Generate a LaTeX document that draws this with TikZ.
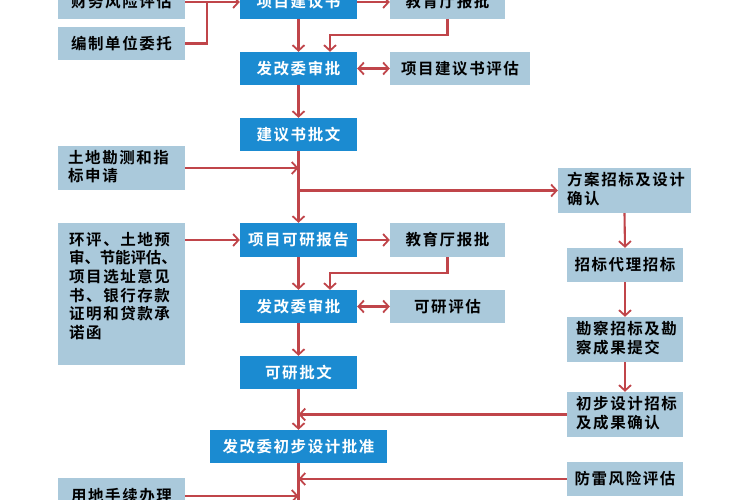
\documentclass[tikz,border=0pt]{standalone}
\usepackage{fontspec}
\newfontfamily\cjk[LetterSpace=10,BoldFont={Noto Sans CJK SC Bold}]{Noto Sans CJK SC}
\usetikzlibrary{arrows.meta}
\definecolor{bluebox}{RGB}{27,139,209}
\definecolor{lightbox}{RGB}{170,201,219}
\definecolor{redline}{RGB}{192,69,74}
\tikzset{
  base/.style={inner sep=0pt, font=\cjk\bfseries\fontsize{15.5}{18.6}\selectfont},
  bb/.style={base, fill=bluebox, text=white, minimum width=117pt, minimum height=33pt},
  lb/.style={base, fill=lightbox, text=black, minimum height=33pt},
  txt/.style={base, text=black, align=left},
  ln/.style={draw=redline, line width=2.1pt},
  ar/.style={ln, -{Straight Barb[length=5.5pt,width=12pt,line width=1.8pt]}},
  dar/.style={ln, {Straight Barb[length=5.5pt,width=12pt,line width=1.8pt]}-{Straight Barb[length=5.5pt,width=12pt,line width=1.8pt]}}
}
\begin{document}
\begin{tikzpicture}[x=1pt,y=-1pt]
\useasboundingbox (0,0) rectangle (750,500);
\fill[white] (0,0) rectangle (750,500);
% left column
\node[lb, minimum width=127pt, minimum height=34pt] (cw) at (121.5,2) {财务风险评估};
\node[lb, minimum width=127pt] (bz) at (121.5,43.5) {编制单位委托};
\node[lb, minimum width=127pt, minimum height=44pt] (td) at (121.5,168) {};
\node[txt, anchor=north west] (tdt) at (68,150) {土地勘测和指\\标申请};
\node[lb, minimum width=127pt, minimum height=142pt] (hp) at (121.5,294) {};
\node[txt, anchor=north west] (hpt) at (69,232) {环评、土地预\\{\addfontfeature{LetterSpace=-1}审、节能评估、}\\项目选址意见\\书、银行存款\\证明和贷款承\\诺函};
\node[lb, minimum width=127pt, minimum height=36pt] (yd) at (121.5,496) {用地手续办理};
% main column
\node[bb, minimum height=34pt] (xmb) at (298.5,2) {项目建议书};
\node[bb] (fg1) at (298.5,68.5) {发改委审批};
\node[bb] (pw1) at (298.5,134.5) {建议书批文};
\node[bb, minimum height=34pt] (ky) at (298.5,240) {项目可研报告};
\node[bb] (fg2) at (298.5,306.5) {发改委审批};
\node[bb] (kw) at (298.5,372.5) {可研批文};
\node[bb, minimum width=177pt] (cb) at (298.5,446.5) {发改委初步设计批准};
% second column
\node[lb, minimum width=115pt, minimum height=34pt] (jy1) at (447.5,2) {教育厅报批};
\node[lb, minimum width=140pt] (pg1) at (460,68.5) {项目建议书评估};
\node[lb, minimum width=115pt, minimum height=34pt] (jy2) at (447.5,240) {教育厅报批};
\node[lb, minimum width=115pt] (kp) at (447.5,306.5) {可研评估};
% right column
\node[lb, minimum width=133pt, minimum height=45pt] (fa) at (624.5,190.5) {};
\node[txt, anchor=north west] (fat) at (567,172) {方案招标及设计\\确认};
\node[lb, minimum width=116pt, minimum height=34pt] (zd) at (625,265) {招标代理招标};
\node[lb, minimum width=116pt, minimum height=45pt] (kc) at (625,339.5) {};
\node[txt, anchor=north west] (kct) at (576,321) {勘察招标及勘\\察成果提交};
\node[lb, minimum width=116pt, minimum height=45pt] (cs) at (625,414.5) {};
\node[txt, anchor=north west] (cst) at (576,396) {初步设计招标\\及成果确认};
\node[lb, minimum width=116pt, minimum height=34pt] (fl) at (625,479) {防雷风险评估};
% coordinates
\coordinate (j1) at (207,2);
\coordinate (k1) at (330,35);
\coordinate (k2) at (330,273);
\coordinate (bot) at (298.5,500);
% connectors
\draw[ar] (cw.east) -- (xmb.west);
\draw[ln] (bz.east) -| (j1);
\draw[ar] (xmb.east) -- (jy1.west);
\draw[ar] (jy1.south) |- (k1) -- (k1 |- fg1.north);
\draw[ar] (xmb.south) -- (fg1.north);
\draw[dar] (fg1.east) -- (pg1.west);
\draw[ar] (fg1.south) -- (pw1.north);
\draw[ar] (pw1.south) -- (ky.north);
\draw[ar] (td.east) -- (td.east -| pw1.south);
\draw[ar] (fa.west -| pw1.south) -- (fa.west);
\draw[ar] (ky.west -| hp.east) -- (ky.west);
\draw[ar] (ky.east) -- (jy2.west);
\draw[ar] (jy2.south) |- (k2) -- (k2 |- fg2.north);
\draw[ar] (ky.south) -- (fg2.north);
\draw[dar] (fg2.east) -- (kp.west);
\draw[ar] (fg2.south) -- (kw.north);
\draw[ar] (kw.south) -- (cb.north);
\draw[ar] (cs.west) -- (cs.west -| kw.south);
\draw[ar] (fl.west) -- (fl.west -| kw.south);
\draw[ln] (cb.south) -- (bot);
\draw[ar] (yd.east) -- (yd.east -| cb.south);
\draw[ar] (fa.south) -- (zd.north);
\draw[ar] (zd.south) -- (kc.north);
\draw[ar] (kc.south) -- (cs.north);
\end{tikzpicture}
\end{document}
